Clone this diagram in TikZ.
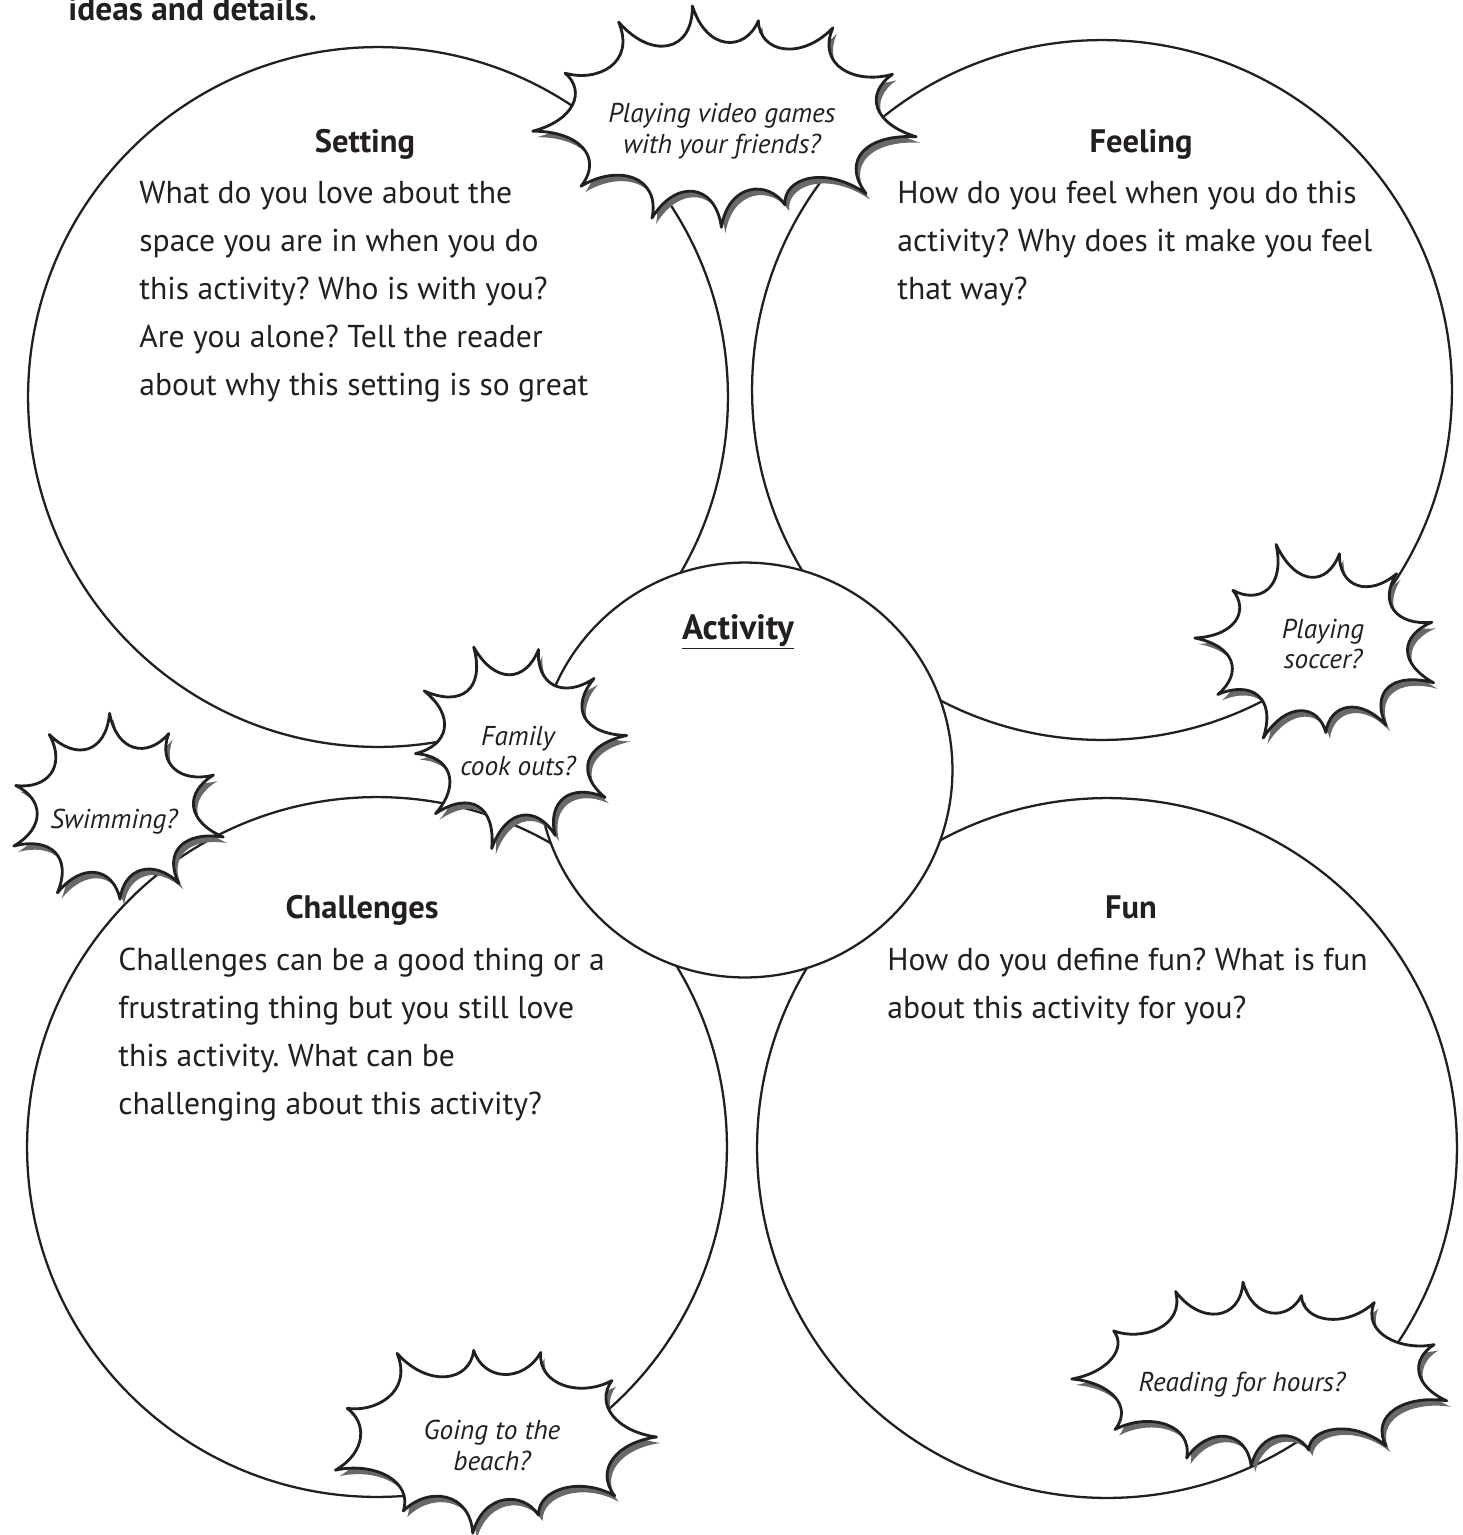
\documentclass[tikz,border=0pt]{standalone}
\usepackage{fontspec}
\setmainfont{PT Sans}
\usepackage{tikz}
\usetikzlibrary{positioning}
\frenchspacing

\definecolor{inkc}{RGB}{35,31,32}
\definecolor{shadec}{RGB}{105,105,107}

\newcommand{\burstshape}[5]{%
  \path[#5] ({warp(#4,#1,#2)}:{#1+0.05*#2} and {1.05*#2})
    \foreach \i in {1,...,#3}{
      .. controls ({warp(#4+(\i-1)*360/#3+0.13*360/#3,#1,#2)}:{#1-0.38*#2} and {0.62*#2})
              and ({warp(#4+\i*360/#3-0.13*360/#3,#1,#2)}:{#1-0.38*#2} and {0.62*#2})
      .. ({warp(#4+\i*360/#3,#1,#2)}:{#1+#2*(0.07*sin(\i/#3*1800)+0.05*cos(\i/#3*1080))} and {#2*(1+0.07*sin(\i/#3*1800)+0.05*cos(\i/#3*1080))})
    } -- cycle;}

\begin{document}
\begin{tikzpicture}[x=0.02cm, y=-0.02cm,
    declare function={warp(\u,\a,\b)=\u+(\a-\b)/(\a+\b)*28.65*sin(2*\u);},
    bigcircle/.style={circle, draw=inkc, line width=1.3pt, minimum size=14cm, inner sep=0pt},
    hubcircle/.style={circle, draw=inkc, fill=white, line width=1.3pt, minimum size=8.3cm, inner sep=0pt},
    heading/.style={anchor=base, font=\fontsize{18.5}{22}\selectfont\bfseries, text=inkc, inner sep=0pt},
    body/.style={anchor=base west, align=left, font=\fontsize{18}{27.3}\selectfont, text=inkc, inner sep=0pt},
    burst/.style={draw=inkc, fill=white, line width=1.6pt, line join=round},
    burstshade/.style={fill=shadec},
    bursttext/.style={align=center, font=\fontsize{15.5}{17.6}\selectfont\itshape, text=inkc, inner sep=0pt}]

    \useasboundingbox (0,0) rectangle (1463,1535);

    \node[anchor=base west, font=\fontsize{19}{22}\selectfont\bfseries, text=inkc, inner sep=0pt] (title) at (68,20) {ideas and details.};

    \node[bigcircle] (setting) at (378,397) {}; \node[bigcircle] (feeling) at (1102,390) {};
    \node[bigcircle] (challenges) at (377,1147) {}; \node[bigcircle] (fun) at (1107,1148) {};
    \node[hubcircle] (activity) at (745,770) {};


    \node[heading] (settinghead) at (365,152) {Setting};
    \node[body] (settingtext) at (139,395) {What do you love about the\\space you are in when you do\\this activity? Who is with you?\\Are you alone? Tell the reader\\about why this setting is so great};

    \node[heading] (feelinghead) at (1141,152) {Feeling};
    \node[body] (feelingtext) at (897,299) {How do you feel when you do this\\activity? Why does it make you feel\\that way?};

    \node[heading] (challengeshead) at (362,918) {Challenges};
    \node[body] (challengestext) at (118,1114) {Challenges can be a good thing or a\\frustrating thing but you still love\\this activity. What can be\\challenging about this activity?};

    \node[heading] (funhead) at (1131,918) {Fun};
    \node[body] (funtext) at (887,1018) {How do you define fun? What is fun\\about this activity for you?};

    \node[heading, font=\fontsize{20}{24}\selectfont\bfseries] (activityhead) at (738,639) {\underline{Activity}};


    \foreach \nm/\bx/\by/\rx/\ry/\n/\rot/\tx/\ty/\txt in {
        games/724/117/190/106/13/8/722/131/{Playing video games\\with your friends?},
        soccer/1318/645/120/96/11/20/1323/644/{Playing\\soccer?},
        family/516/745/106/102/10/-5/518/751/{Family\\cook outs?},
        swimming/115/810/108/93/10/15/114/822/{Swimming?},
        beach/490/1437/162/90/11/0/492/1445/{Going to the\\beach?},
        reading/1262/1375/188/88/13/12/1242/1385/{Reading for hours?}}{
      \begin{scope}[shift={(\bx,\by)}]
        \burstshape{\rx}{\ry}{\n}{\rot}{burstshade, shift={(4,6)}}
        \burstshape{\rx}{\ry}{\n}{\rot}{burst}
      \end{scope}
      \node[bursttext] (\nm) at (\tx,\ty) {\txt};
    }
\end{tikzpicture}
\end{document}
